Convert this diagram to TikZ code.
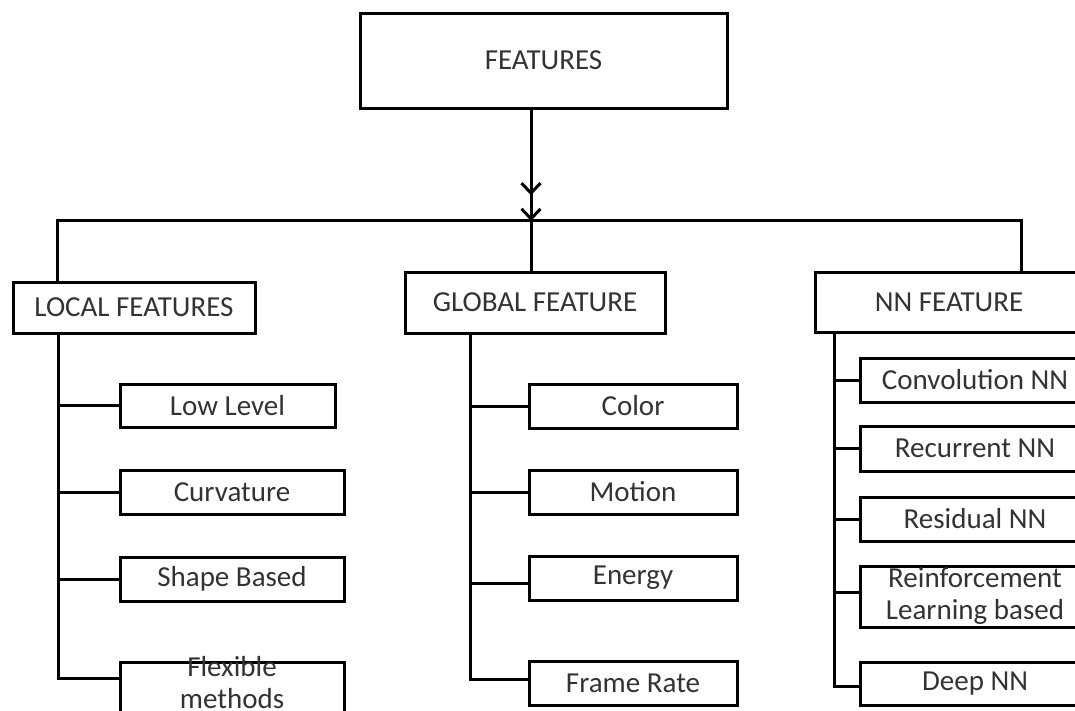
\documentclass[tikz,border=0pt]{standalone}
\usepackage{fontspec}
\setmainfont{Carlito}
\usetikzlibrary{arrows.meta}
\tikzset{
  box/.style={draw=black, line width=3pt, fill=white, inner sep=0pt, text=black!80,
    font=\fontsize{29}{32}\selectfont, align=center},
  conn/.style={draw=black, line width=3pt},
  txt/.style={inner sep=0pt, text=black!80, font=\fontsize{29}{32}\selectfont, align=center},
  barb/.style={Straight Barb[length=10pt,width=19pt,line width=3pt]}
}
\begin{document}
\begin{tikzpicture}[x=1pt,y=-1pt]
\path[use as bounding box, clip] (0,0) rectangle (1075,710);
\fill[white] (0,0) rectangle (1075,710);
% top
\node[box, minimum width=367pt, minimum height=95pt] (feat) at (543.5,60.5) {FEATURES};
% level 1
\node[box, minimum width=242pt, minimum height=51pt] (lf) at (134,307.5) {LOCAL FEATURES};
\node[box, minimum width=260pt, minimum height=61pt] (gf) at (535,302.5) {GLOBAL FEATURE};
\node[box, minimum width=268pt, minimum height=60pt] (nf) at (949,302) {NN FEATURE};
% local children
\node[box, minimum width=215pt, minimum height=43pt] (ll) at (227.5,405.5) {Low Level};
\node[box, minimum width=224pt, minimum height=44pt] (cu) at (232,492) {Curvature};
\node[box, minimum width=224pt, minimum height=44pt] (sb) at (232,579) {Shape Based};
\node[box, minimum width=224pt, minimum height=60pt] (fm) at (232,692) {};
\node[txt, anchor=north] (fmt) at (232,656) {Flexible\\methods};
% global children
\node[box, minimum width=208pt, minimum height=44pt] (co) at (633,406) {Color};
\node[box, minimum width=208pt, minimum height=44pt] (mo) at (633,492) {Motion};
\node[box, minimum width=208pt, minimum height=44pt] (en) at (633,578) {Energy};
\node[box, minimum width=208pt, minimum height=44pt] (fr) at (633,683) {Frame Rate};
% nn children
\node[box, minimum width=230pt, minimum height=44pt] (cn) at (975,380) {Convolution NN};
\node[box, minimum width=230pt, minimum height=45pt] (rn) at (975,448.5) {Recurrent NN};
\node[box, minimum width=230pt, minimum height=44pt] (rs) at (975,519) {Residual NN};
\node[box, minimum width=230pt, minimum height=61pt] (rl) at (975,596.5) {Reinforcement\\Learning based};
\node[box, minimum width=230pt, minimum height=43pt] (dn) at (975,683.5) {Deep NN};
% coordinates
\coordinate (hub) at (531,220);
\coordinate (lt) at (57,220);
\coordinate (nt) at (1021,220);
\coordinate (ls) at (58,0);
\coordinate (gs) at (470,0);
\coordinate (ns) at (834,0);
% arrow
\draw[conn, -{Straight Barb[length=10pt,width=19pt,sep=12pt]Straight Barb[length=10pt,width=19pt]}]
  (feat.south -| hub) -- ([yshift=-1pt]hub);
% bus
\draw[conn] (lf.north -| lt) -- (lt) -- (nt) -- (nf.north -| nt);
\draw[conn] (hub) -- (gf.north -| hub);
% local spine
\draw[conn] (lf.south -| ls) |- ([yshift=14pt]fm.west);
\draw[conn] (ls |- ll.west) -- (ll.west);
\draw[conn] (ls |- cu.west) -- (cu.west);
\draw[conn] (ls |- sb.west) -- (sb.west);
% global spine
\draw[conn] (gf.south -| gs) |- ([yshift=4pt]fr.west);
\draw[conn] (gs |- co.west) -- (co.west);
\draw[conn] (gs |- mo.west) -- (mo.west);
\draw[conn] ([yshift=-5pt]en.west -| gs) -- ([yshift=-5pt]en.west);
% nn spine
\draw[conn] (nf.south -| ns) |- ([yshift=-2.5pt]dn.west);
\draw[conn] (ns |- cn.west) -- (cn.west);
\draw[conn] (ns |- rn.west) -- (rn.west);
\draw[conn] (ns |- rs.west) -- (rs.west);
\draw[conn] ([yshift=4.5pt]rl.west -| ns) -- ([yshift=4.5pt]rl.west);
\end{tikzpicture}
\end{document}
